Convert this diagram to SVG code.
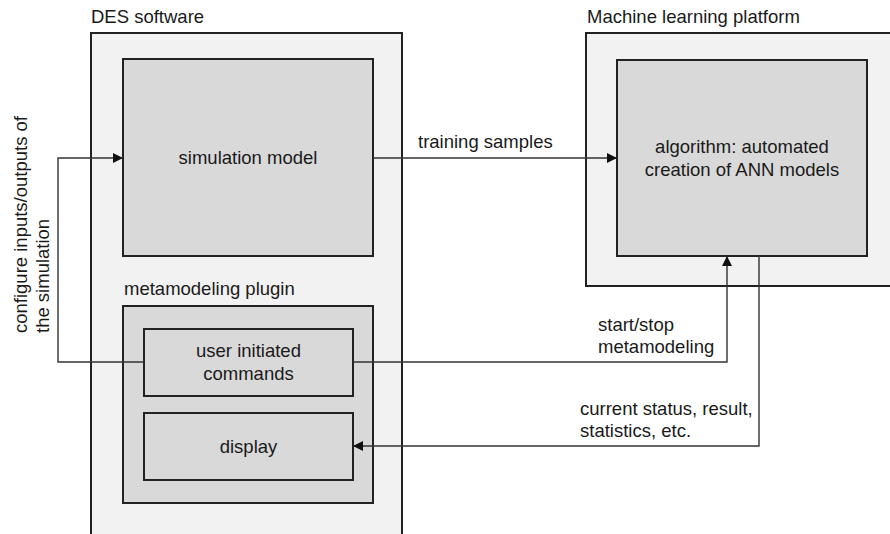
<svg xmlns="http://www.w3.org/2000/svg" width="890" height="534" viewBox="0 0 890 534">
  <style>
    .outer { fill: #f2f2f2; stroke: #222; stroke-width: 2; }
    .inner { fill: #d9d9d9; stroke: #222; stroke-width: 2; }
    .wire { fill: none; stroke: #333; stroke-width: 1.4; }
    text { font-family: "Liberation Sans", Arial, sans-serif; font-size: 18.5px; fill: #1a1a1a; }
    .mid { text-anchor: middle; }
  </style>
  <defs>
    <marker id="arrow" markerUnits="userSpaceOnUse" markerWidth="12" markerHeight="10" refX="10" refY="5" orient="auto">
      <path d="M0,0 L10,5 L0,10 Z" fill="#111"/>
    </marker>
  </defs>

  <rect width="890" height="534" fill="#ffffff"/>

  <!-- DES software container -->
  <g id="des-software">
    <rect class="outer" x="91" y="33" width="311" height="520"/>
    <text x="91" y="23">DES software</text>
  </g>

  <!-- Machine learning platform container -->
  <g id="ml-platform">
    <rect class="outer" x="586" y="33" width="320" height="253"/>
    <text x="587" y="23">Machine learning platform</text>
  </g>

  <g id="simulation-model">
    <rect class="inner" x="123" y="59" width="250" height="197"/>
    <text class="mid" x="248" y="164">simulation model</text>
  </g>

  <g id="algorithm">
    <rect class="inner" x="617" y="60" width="250" height="196"/>
    <text class="mid" x="742" y="153">algorithm: automated</text>
    <text class="mid" x="742" y="176">creation of ANN models</text>
  </g>

  <g id="metamodeling-plugin">
    <rect class="inner" x="123" y="306" width="250" height="197"/>
    <text x="124" y="295">metamodeling plugin</text>
  </g>

  <g id="user-commands">
    <rect class="inner" x="144" y="329" width="209" height="67"/>
    <text class="mid" x="248.5" y="357">user initiated</text>
    <text class="mid" x="248.5" y="380">commands</text>
  </g>

  <g id="display">
    <rect class="inner" x="144" y="413" width="209" height="67"/>
    <text class="mid" x="248.5" y="453">display</text>
  </g>

  <!-- connectors -->
  <g id="connectors">
    <path class="wire" d="M144,362 H58 V158 H123" marker-end="url(#arrow)"/>
    <path class="wire" d="M373,158 H617" marker-end="url(#arrow)"/>
    <path class="wire" d="M353,362 H727 V256" marker-end="url(#arrow)"/>
    <path class="wire" d="M759,256 V446 H353" marker-end="url(#arrow)"/>

    <text transform="translate(27,333) rotate(-90)">
      <tspan x="0" y="0">configure inputs/outputs of</tspan>
      <tspan x="0" y="22">the simulation</tspan>
    </text>
    <text x="418" y="148">training samples</text>
    <text x="598" y="331">start/stop</text>
    <text x="598" y="353">metamodeling</text>
    <text x="580" y="415">current status, result,</text>
    <text x="580" y="437">statistics, etc.</text>
  </g>
</svg>
